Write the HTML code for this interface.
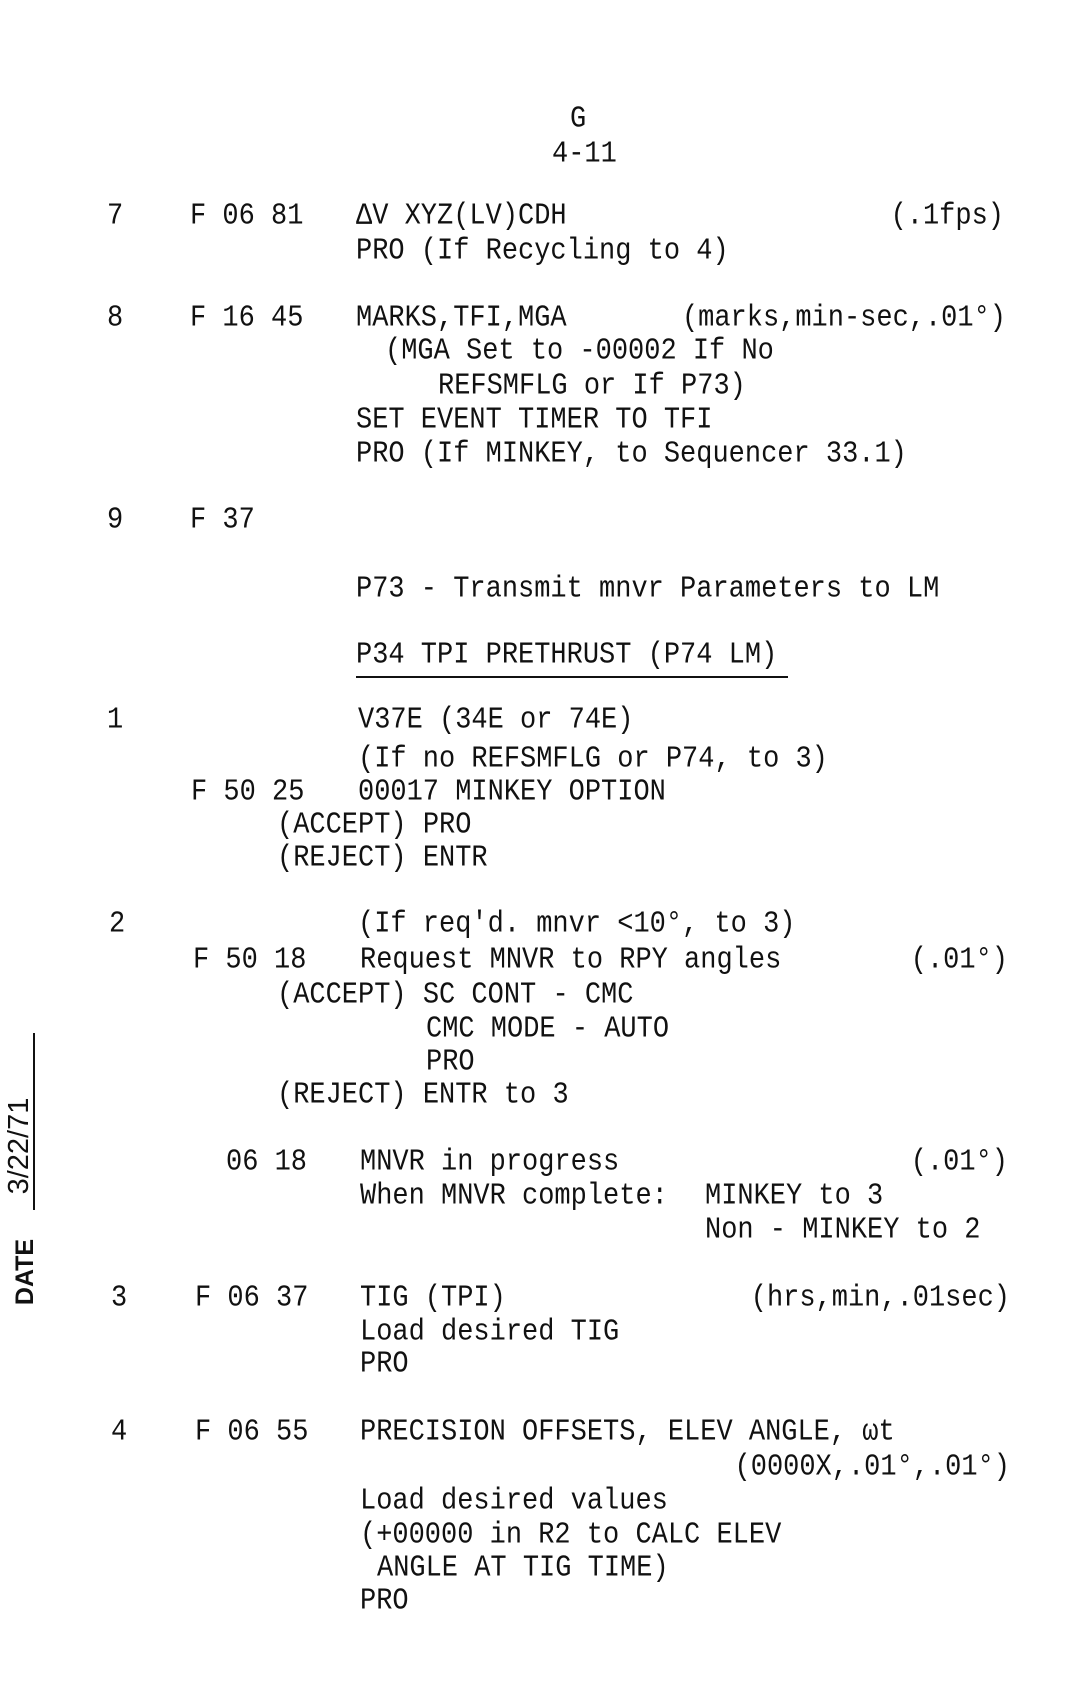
<!DOCTYPE html>
<html><head><meta charset="utf-8"><style>
html,body{margin:0;padding:0;background:#fff;}
body{width:1072px;height:1691px;position:relative;overflow:hidden;font-family:"Liberation Mono",monospace;font-size:27px;color:#111;}
#w{position:absolute;left:0;top:5px;width:1072px;height:1686px;}
.t{position:absolute;white-space:pre;line-height:30px;transform:scaleY(1.12);transform-origin:left center;}
.r{position:absolute;white-space:pre;line-height:30px;transform:scaleY(1.12);}
</style></head><body><div id="w">
<div class="t" style="left:570px;top:100px">G</div>
<div class="t" style="left:552px;top:135px">4-11</div>

<div class="t" style="left:107px;top:197px">7</div>
<div class="t" style="left:190px;top:197px">F 06 81</div>
<div class="t" style="left:356px;top:197px">ΔV XYZ(LV)CDH</div>
<div class="r" style="right:68px;top:197px">(.1fps)</div>
<div class="t" style="left:356px;top:232px">PRO (If Recycling to 4)</div>

<div class="t" style="left:107px;top:299px">8</div>
<div class="t" style="left:190px;top:299px">F 16 45</div>
<div class="t" style="left:356px;top:299px">MARKS,TFI,MGA</div>
<div class="r" style="right:66px;top:299px">(marks,min-sec,.01°)</div>
<div class="t" style="left:385px;top:332px">(MGA Set to -00002 If No</div>
<div class="t" style="left:438px;top:367px">REFSMFLG or If P73)</div>
<div class="t" style="left:356px;top:401px">SET EVENT TIMER TO TFI</div>
<div class="t" style="left:356px;top:435px">PRO (If MINKEY, to Sequencer 33.1)</div>

<div class="t" style="left:107px;top:501px">9</div>
<div class="t" style="left:190px;top:501px">F 37</div>

<div class="t" style="left:356px;top:570px">P73 - Transmit mnvr Parameters to LM</div>
<div class="t" style="left:356px;top:636px">P34 TPI PRETHRUST (P74 LM)</div>
<div style="position:absolute;left:356px;top:671px;width:432px;height:2px;background:#111"></div>

<div class="t" style="left:107px;top:701px">1</div>
<div class="t" style="left:358px;top:701px">V37E (34E or 74E)</div>
<div class="t" style="left:358px;top:740px">(If no REFSMFLG or P74, to 3)</div>
<div class="t" style="left:191px;top:773px">F 50 25</div>
<div class="t" style="left:358px;top:773px">00017 MINKEY OPTION</div>
<div class="t" style="left:277px;top:806px">(ACCEPT) PRO</div>
<div class="t" style="left:277px;top:839px">(REJECT) ENTR</div>

<div class="t" style="left:109px;top:905px">2</div>
<div class="t" style="left:358px;top:905px">(If req'd. mnvr &lt;10°, to 3)</div>
<div class="t" style="left:193px;top:941px">F 50 18</div>
<div class="t" style="left:360px;top:941px">Request MNVR to RPY angles</div>
<div class="r" style="right:64px;top:941px">(.01°)</div>
<div class="t" style="left:277px;top:976px">(ACCEPT) SC CONT - CMC</div>
<div class="t" style="left:426px;top:1010px">CMC MODE - AUTO</div>
<div class="t" style="left:426px;top:1043px">PRO</div>
<div class="t" style="left:277px;top:1076px">(REJECT) ENTR to 3</div>

<div class="t" style="left:226px;top:1143px">06 18</div>
<div class="t" style="left:360px;top:1143px">MNVR in progress</div>
<div class="r" style="right:64px;top:1143px">(.01°)</div>
<div class="t" style="left:360px;top:1177px">When MNVR complete:</div>
<div class="t" style="left:705px;top:1177px">MINKEY to 3</div>
<div class="t" style="left:705px;top:1211px">Non - MINKEY to 2</div>

<div class="t" style="left:111px;top:1279px">3</div>
<div class="t" style="left:195px;top:1279px">F 06 37</div>
<div class="t" style="left:360px;top:1279px">TIG (TPI)</div>
<div class="r" style="right:62px;top:1279px">(hrs,min,.01sec)</div>
<div class="t" style="left:360px;top:1313px">Load desired TIG</div>
<div class="t" style="left:360px;top:1345px">PRO</div>

<div class="t" style="left:111px;top:1413px">4</div>
<div class="t" style="left:195px;top:1413px">F 06 55</div>
<div class="t" style="left:360px;top:1413px">PRECISION OFFSETS, ELEV ANGLE, ωt</div>
<div class="r" style="right:62px;top:1448px">(0000X,.01°,.01°)</div>
<div class="t" style="left:360px;top:1482px">Load desired values</div>
<div class="t" style="left:360px;top:1516px">(+00000 in R2 to CALC ELEV</div>
<div class="t" style="left:377px;top:1549px">ANGLE AT TIG TIME)</div>
<div class="t" style="left:360px;top:1582px">PRO</div>
</div>

<div style="position:absolute;left:33px;top:1033px;width:2px;height:177px;background:#111"></div>
<div style="position:absolute;left:-46px;top:1132px;width:130px;height:28px;line-height:28px;text-align:center;transform:rotate(-90deg);font-family:'Liberation Sans',sans-serif;font-size:29px;">3/22/71</div>
<div style="position:absolute;left:-25px;top:1259px;width:100px;height:26px;line-height:26px;text-align:center;transform:rotate(-90deg);font-family:'Liberation Sans',sans-serif;font-size:25px;font-weight:bold;">DATE</div>
</body></html>
